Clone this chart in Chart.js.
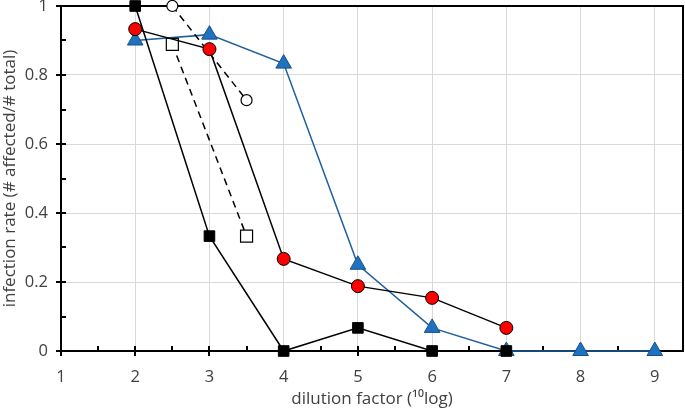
<!DOCTYPE html>
<html>
<head>
<meta charset="utf-8">
<script src="https://cdn.jsdelivr.net/npm/chart.js@4/dist/chart.umd.min.js"></script>
<style>
  html, body { margin: 0; padding: 0; background: #fff; }
  #wrap { width: 685px; height: 409px; }
</style>
</head>
<body>
<div id="wrap"><canvas id="chart" width="685" height="409"></canvas></div>
<script>
// dilution steps (10log) and infection rates
const dilutionA = [2, 3, 4, 5, 6, 7];
const blackSquares = [1, 0.333, 0, 0.067, 0, 0];
const redCircles = [0.933, 0.875, 0.267, 0.188, 0.154, 0.067];

const dilutionB = [2, 3, 4, 5, 6, 7, 8, 9];
const blueTriangles = [0.9, 0.917, 0.833, 0.25, 0.067, 0, 0, 0];

const dilutionHalf = [2.5, 3.5];
const openSquares = [0.889, 0.333];
const openCircles = [1, 0.727];

const xTicks = [1, 2, 3, 4, 5, 6, 7, 8, 9];
const yTicks = [0, 0.2, 0.4, 0.6, 0.8, 1];

const toPoints = (xs, ys) => xs.map((v, i) => ({ x: v, y: ys[i] }));

const textColor = '#404040';
const fontFamily = "'Open Sans', 'Noto Sans', sans-serif";

// box border plus cross ticks like the original excel chart
const axisBox = {
    id: 'axisBox',
    beforeDatasetsDraw(chart) {
        const { ctx, chartArea, scales } = chart;
        const { left, right, top, bottom } = chartArea;
        ctx.save();
        ctx.strokeStyle = '#000';
        ctx.lineWidth = 2;
        ctx.strokeRect(left, top, right - left, bottom - top);

        ctx.beginPath();
        xTicks.forEach(v => {
            const px = Math.round(scales.x.getPixelForValue(v));
            ctx.moveTo(px, bottom - 5);
            ctx.lineTo(px, bottom + 5);
            const half = v + 0.5;
            if (half < scales.x.max) {
                const hx = Math.round(scales.x.getPixelForValue(half));
                ctx.moveTo(hx, bottom - 5);
                ctx.lineTo(hx, bottom);
            }
        });
        yTicks.forEach(v => {
            const py = Math.round(scales.y.getPixelForValue(v));
            ctx.moveTo(left - 5, py);
            ctx.lineTo(left + 5, py);
            if (v < 1) {
                const hy = Math.round(scales.y.getPixelForValue(v + 0.1));
                ctx.moveTo(left, hy);
                ctx.lineTo(left + 5, hy);
            }
        });
        ctx.stroke();
        ctx.restore();
    }
};

const ctx = document.getElementById('chart').getContext('2d');
new Chart(ctx, {
    type: 'scatter',
    data: {
        datasets: [
            {
                label: 'black squares',
                data: toPoints(dilutionA, blackSquares),
                showLine: true,
                borderColor: '#000',
                borderWidth: 1.5,
                pointStyle: 'rect',
                pointRadius: 7.5,
                pointBackgroundColor: '#000',
                pointBorderColor: '#000',
                pointBorderWidth: 1,
                clip: false,
                order: 1
            },
            {
                label: 'red circles',
                data: toPoints(dilutionA, redCircles),
                showLine: true,
                borderColor: '#000',
                borderWidth: 1.5,
                pointStyle: 'circle',
                pointRadius: 6.5,
                pointBackgroundColor: '#ff0000',
                pointBorderColor: '#000',
                pointBorderWidth: 1,
                clip: false,
                order: 2
            },
            {
                label: 'open squares',
                data: toPoints(dilutionHalf, openSquares),
                showLine: true,
                borderColor: '#000',
                borderWidth: 1.5,
                borderDash: [7, 5],
                pointStyle: 'rect',
                pointRadius: 8.5,
                pointBackgroundColor: '#fff',
                pointBorderColor: '#000',
                pointBorderWidth: 1.2,
                clip: false,
                order: 3
            },
            {
                label: 'open circles',
                data: toPoints(dilutionHalf, openCircles),
                showLine: true,
                borderColor: '#000',
                borderWidth: 1.5,
                borderDash: [7, 5],
                pointStyle: 'circle',
                pointRadius: 5.5,
                pointBackgroundColor: '#fff',
                pointBorderColor: '#000',
                pointBorderWidth: 1.2,
                clip: false,
                order: 4
            },
            {
                label: 'blue triangles',
                data: toPoints(dilutionB, blueTriangles),
                showLine: true,
                borderColor: '#1f5f9e',
                borderWidth: 1.5,
                pointStyle: 'triangle',
                pointRadius: 9,
                pointBackgroundColor: '#1f72c0',
                pointBorderColor: '#1a4f85',
                pointBorderWidth: 1,
                clip: false,
                order: 5
            }
        ]
    },
    options: {
        responsive: false,
        animation: false,
        layout: { autoPadding: false, padding: { top: 6, right: 2, left: 0, bottom: 0 } },
        plugins: {
            legend: { display: false },
            tooltip: { enabled: false }
        },
        scales: {
            x: {
                type: 'linear',
                min: 1,
                max: 9.38,
                afterBuildTicks: scale => { scale.ticks = xTicks.map(v => ({ value: v })); },
                afterFit: scale => {
                    scale.height = 58;
                    scale.paddingLeft = 0;
                    scale.paddingRight = 0;
                },
                grid: { color: '#d9d9d9', lineWidth: 1, drawTicks: false },
                border: { display: false },
                ticks: {
                    color: textColor,
                    padding: 16,
                    font: { family: fontFamily, size: 16.5 }
                },
                title: {
                    display: true,
                    text: 'dilution factor (¹⁰log)',
                    color: textColor,
                    padding: { top: 0, bottom: 0 },
                    font: { family: fontFamily, size: 17 }
                }
            },
            y: {
                min: 0,
                max: 1,
                afterBuildTicks: scale => { scale.ticks = yTicks.map(v => ({ value: v })); },
                afterFit: scale => {
                    scale.width = 61;
                    scale.paddingTop = 0;
                    scale.paddingBottom = 0;
                },
                grid: { color: '#d9d9d9', lineWidth: 1, drawTicks: false },
                border: { display: false },
                ticks: {
                    color: textColor,
                    padding: 13,
                    font: { family: fontFamily, size: 16.5 },
                    callback: v => String(v)
                },
                title: {
                    display: true,
                    text: 'infection rate (# affected/# total)',
                    color: textColor,
                    padding: { top: 0, bottom: 0 },
                    font: { family: fontFamily, size: 17 }
                }
            }
        }
    },
    plugins: [axisBox]
});
</script>
</body>
</html>
